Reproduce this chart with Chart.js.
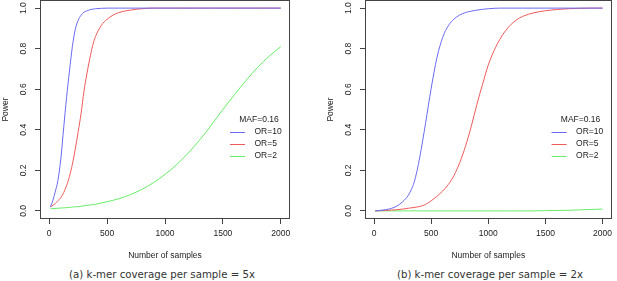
<!DOCTYPE html>
<html>
<head>
<meta charset="utf-8">
<script src="https://cdn.jsdelivr.net/npm/chart.js@4/dist/chart.umd.min.js"></script>
<style>
  body { margin: 0; background: #fff; width: 617px; height: 281px; position: relative; overflow: hidden; }
  .panel { position: absolute; top: 0; height: 261px; }
  .caption { position: absolute; top: 269px; width: 260px; text-align: center;
             font: 10.2px "DejaVu Sans", sans-serif; line-height: 12px; color: #333; }
</style>
</head>
<body>
<div class="panel" style="left:0;width:300px"><canvas id="chart-a"></canvas></div>
<div class="panel" style="left:310px;width:307px"><canvas id="chart-b"></canvas></div>
<div class="caption" style="left:32px">(a) k-mer coverage per sample = 5x</div>
<div class="caption" style="left:360px">(b) k-mer coverage per sample = 2x</div>
<script>
const legendTitle = 'MAF=0.16'
const seriesLabels = ['OR=10', 'OR=5', 'OR=2']
const seriesColors = ['#6a6af2', '#f05a5a', '#66ee66']
const xTicks = [0, 500, 1000, 1500, 2000]
const yTicks = [0, 0.2, 0.4, 0.6, 0.8, 1.0]
const yTickLabels = ['0.0', '0.2', '0.4', '0.6', '0.8', '1.0']

/* panel (a): coverage 5x */
const samplesA = [10, 25, 50, 75, 100, 125, 150, 175, 200, 225, 250, 275, 300, 325, 350, 375, 400, 450, 500, 550, 600,
    700, 800, 900, 1000, 1100, 1200, 1300, 1400, 1500, 1600, 1700, 1800, 1900, 2000]
const powerA_or10 = [0.02, 0.04, 0.09, 0.15, 0.255, 0.41, 0.56, 0.69, 0.81, 0.895, 0.94, 0.965, 0.98, 0.986, 0.992, 0.995, 0.997, 0.999, 1, 1, 1,
    1, 1, 1, 1, 1, 1, 1, 1, 1, 1, 1, 1, 1, 1]
const powerA_or5 = [0.02, 0.025, 0.035, 0.05, 0.065, 0.09, 0.125, 0.17, 0.23, 0.305, 0.39, 0.48, 0.59, 0.675, 0.75, 0.815, 0.86, 0.915, 0.945, 0.965, 0.978,
    0.99, 0.997, 1, 1, 1, 1, 1, 1, 1, 1, 1, 1, 1, 1]
const powerA_or2 = [0.01, 0.011, 0.012, 0.013, 0.014, 0.015, 0.016, 0.017, 0.019, 0.02, 0.021, 0.023, 0.025, 0.027, 0.029, 0.031, 0.033, 0.039, 0.045, 0.052, 0.06,
    0.08, 0.106, 0.139, 0.18, 0.228, 0.285, 0.35, 0.423, 0.5, 0.573, 0.643, 0.708, 0.763, 0.81]

/* panel (b): coverage 2x */
const samplesB = [10, 50, 100, 150, 200, 250, 300, 325, 350, 375, 400, 425, 450,
    500, 550, 600, 650, 700, 750, 800, 850, 900, 950, 1000,
    1050, 1100, 1150, 1200, 1250, 1300, 1400, 1500, 1600, 1700, 1800, 1900, 2000]
const powerB_or10 = [0, 0.002, 0.006, 0.012, 0.024, 0.045, 0.077, 0.104, 0.14, 0.195, 0.265, 0.345, 0.43,
    0.605, 0.755, 0.855, 0.913, 0.946, 0.966, 0.978, 0.985, 0.99, 0.994, 0.997,
    0.999, 1, 1, 1, 1, 1, 1, 1, 1, 1, 1, 1, 1]
const powerB_or5 = [0, 0.001, 0.002, 0.004, 0.006, 0.009, 0.013, 0.015, 0.017, 0.019, 0.022, 0.026, 0.032,
    0.05, 0.072, 0.098, 0.13, 0.175, 0.238, 0.318, 0.415, 0.525, 0.625, 0.72,
    0.79, 0.845, 0.888, 0.92, 0.943, 0.959, 0.977, 0.987, 0.993, 0.997, 0.999, 1, 1]
const powerB_or2 = [0, 0, 0, 0, 0, 0, 0, 0, 0, 0, 0, 0, 0,
    0, 0, 0, 0, 0, 0, 0, 0, 0, 0, 0,
    0, 0, 0, 0, 0, 0, 0, 0.001, 0.002, 0.003, 0.005, 0.007, 0.009]

const rFont = '"Liberation Sans", Arial, sans-serif'
const inkColor = '#444'

// box, rotated y labels and the legend, drawn the way R does it
const rStyle = {
    id: 'rStyle',
    afterDraw(chart) {
        const ctx = chart.ctx
        const a = chart.chartArea
        ctx.save()
        ctx.strokeStyle = inkColor
        ctx.lineWidth = 1
        const x0 = Math.round(a.left) + 0.5, y0 = Math.round(a.top) + 0.5
        const x1 = Math.round(a.right) - 0.5, y1 = Math.round(a.bottom) - 0.5
        ctx.strokeRect(x0, y0, x1 - x0, y1 - y0)

        ctx.fillStyle = '#222'
        ctx.font = '8.5px ' + rFont
        ctx.textAlign = 'center'
        ctx.textBaseline = 'middle'
        const ys = chart.scales.y
        ys.ticks.forEach((t, i) => {
            ctx.save()
            ctx.translate(a.left - 16, ys.getPixelForValue(t.value))
            ctx.rotate(-Math.PI / 2)
            ctx.fillText(yTickLabels[i], 0, 0)
            ctx.restore()
        })

        // legend
        const r = a.right
        ctx.fillText(legendTitle, r - 31, a.top + 120)
        ctx.textAlign = 'left'
        chart.data.datasets.forEach((ds, i) => {
            const y = a.top + 131.5 + i * 12.3
            ctx.strokeStyle = ds.borderColor
            ctx.beginPath()
            ctx.moveTo(r - 60, Math.round(y) + 0.5)
            ctx.lineTo(r - 45, Math.round(y) + 0.5)
            ctx.stroke()
            ctx.fillText(ds.label, r - 35.5, y)
        })
        ctx.restore()
    }
}

function makeChart(id, samples, series, padLeft, padRight) {
    return new Chart(document.getElementById(id), {
        type: 'line',
        data: {
            datasets: series.map((vals, i) => ({
                label: seriesLabels[i],
                data: samples.map((n, j) => ({ x: n, y: vals[j] })),
                borderColor: seriesColors[i],
                borderWidth: 1,
                pointRadius: 0,
                cubicInterpolationMode: 'monotone',
                fill: false
            }))
        },
        options: {
            responsive: true,
            maintainAspectRatio: false,
            animation: false,
            devicePixelRatio: 1,
            layout: { padding: { left: padLeft, right: padRight, top: 0, bottom: 0 } },
            plugins: {
                legend: { display: false },
                tooltip: { enabled: false }
            },
            scales: {
                x: {
                    type: 'linear',
                    min: -79.6,
                    max: 2079.6,
                    afterBuildTicks: s => { s.ticks = xTicks.map(v => ({ value: v })) },
                    afterFit: s => { s.height = 42 },
                    border: { display: false },
                    grid: { drawOnChartArea: false, drawTicks: true, tickLength: 5, color: inkColor },
                    ticks: {
                        autoSkip: false,
                        padding: 5,
                        color: '#222',
                        font: { family: rFont, size: 8.5 },
                        callback: v => String(v)
                    },
                    title: {
                        display: true,
                        text: 'Number of samples',
                        color: '#222',
                        font: { family: rFont, size: 8.5 },
                        padding: { top: 0, bottom: 0 }
                    }
                },
                y: {
                    min: -0.04,
                    max: 1.04,
                    afterBuildTicks: s => { s.ticks = yTicks.map(v => ({ value: v })) },
                    afterFit: s => { s.width = 40 },
                    border: { display: false },
                    grid: { drawOnChartArea: false, drawTicks: true, tickLength: 5, color: inkColor },
                    ticks: { display: false },
                    title: {
                        display: true,
                        text: 'Power',
                        color: '#222',
                        font: { family: rFont, size: 8.5 },
                        padding: { top: 1, bottom: 0 }
                    }
                }
            }
        },
        plugins: [rStyle]
    })
}

makeChart('chart-a', samplesA, [powerA_or10, powerA_or5, powerA_or2], 0, 10)
makeChart('chart-b', samplesB, [powerB_or10, powerB_or5, powerB_or2], 15, 1)
</script>
</body>
</html>
